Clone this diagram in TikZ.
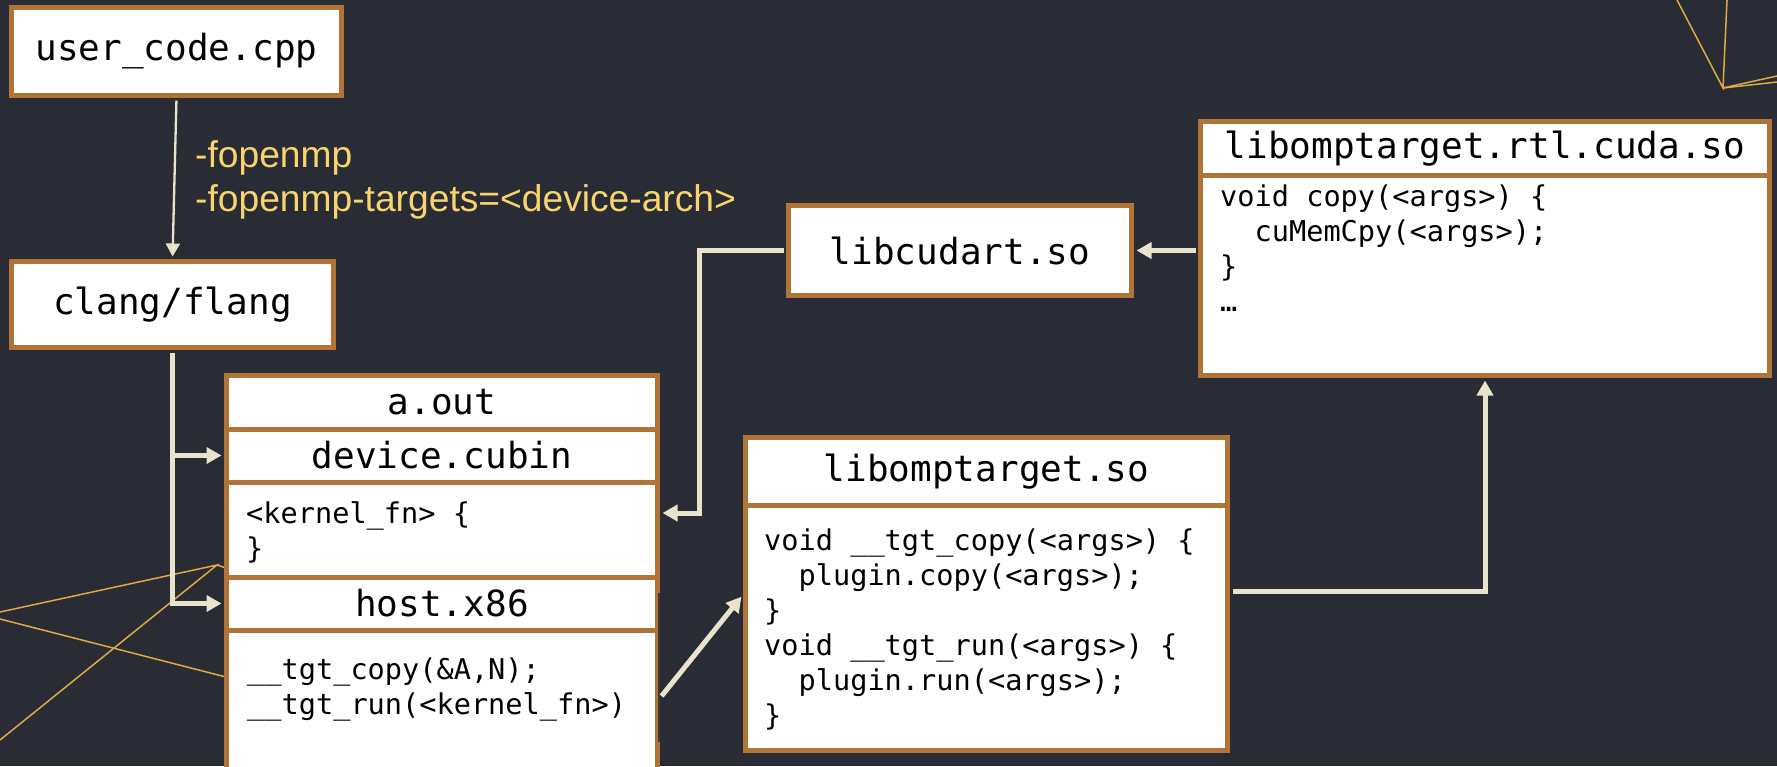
\documentclass[tikz,border=0pt]{standalone}
\usepackage{fontspec}
\setmainfont{Liberation Sans}
\newfontfamily\codefont{DejaVu Sans Mono}
\usetikzlibrary{arrows.meta,calc}
\definecolor{bgc}{RGB}{41,43,53}
\definecolor{boxc}{RGB}{178,116,54}
\definecolor{arrc}{RGB}{234,227,204}
\definecolor{lblc}{RGB}{248,212,108}
\definecolor{goldc}{RGB}{222,170,68}
\definecolor{artc}{RGB}{62,58,56}
\newcommand\hdrfont{\codefont\fontsize{36}{43}\selectfont}
\newcommand\cdfont{\codefont\fontsize{28.6}{35}\selectfont}
\tikzset{
  sect/.style={draw=boxc, line width=5pt, fill=white, inner sep=0pt, font=\hdrfont, text=black},
  codetxt/.style={inner sep=0pt, align=left, font=\cdfont, text=black},
  lbl/.style={inner sep=0pt, align=left, font=\fontsize{37.2}{44}\selectfont, text=lblc},
  goldl/.style={draw=goldc, line width=1.5pt},
  conn/.style={draw=arrc, shorten <=2.5pt, shorten >=2.5pt},
  thinarr/.style={conn, line width=2.3pt, -{Triangle[length=13pt,width=14pt]}},
  thickarr/.style={conn, line width=5pt, -{Triangle[length=15pt,width=16pt]}},
}
\begin{document}
\begin{tikzpicture}[x=1pt,y=-1pt]
\fill[bgc] (0,0) rectangle (1777,766);
\useasboundingbox (0,0) rectangle (1777,766);
\clip (0,0) rectangle (1777,766);

% decorative lines
\coordinate (g1) at (217,565);
\draw[goldl] (0,612) -- (g1) -- (0,740);
\draw[goldl] (g1) -- (226,568);
\draw[goldl] (0,619) -- (226,677);
\coordinate (g2) at (1723,88);
\draw[goldl] (1677,0) -- (g2) -- (1727,0);
\draw[goldl] (g2) -- (1777,76);
\draw[goldl] (g2) -- (1777,82);

% boxes
\node[sect, minimum width=330pt, minimum height=88pt] (uc) at (176.5,51.5) {user\_code.cpp};
\node[sect, minimum width=322pt, minimum height=86pt] (cl) at (172.5,304.5) {clang/flang};

\node[sect, minimum width=431pt, minimum height=53.5pt] (ao) at (442,402.25) {a.out};
\node[sect, minimum width=431pt, minimum height=53pt] (dc) at (442,455.5) {device.cubin};
\node[sect, minimum width=431pt, minimum height=95pt] (kc) at (442,529.5) {};
\node[sect, minimum width=431pt, minimum height=53pt] (hx) at (442,603.5) {host.x86};
\node[sect, minimum width=431pt, minimum height=170pt] (hc) at (442,715) {};
\draw[artc, line width=1.5pt] (659,593) -- (659,742);
\node[codetxt, anchor=west] (kct) at (246,532.5) {<kernel\_fn> \{\\\}};
\node[codetxt, anchor=west] (hct) at (247,689.5) {\_\_tgt\_copy(\&A,N);\\\_\_tgt\_run(<kernel\_fn>)};

\node[sect, minimum width=343pt, minimum height=90pt] (cu) at (960,250.5) {libcudart.so};

\node[sect, minimum width=569pt, minimum height=53.5pt] (rh) at (1485,148.25) {libomptarget.rtl.cuda.so};
\node[sect, minimum width=569pt, minimum height=200.5pt] (rc) at (1485,275.25) {};
\node[codetxt, anchor=west] (rct) at (1220,248.5) {void copy(<args>) \{\\\phantom{xx}cuMemCpy(<args>);\\\}\\…};

\node[sect, minimum width=482pt, minimum height=67.5pt] (lh) at (986.5,471.25) {libomptarget.so};
\node[sect, minimum width=482pt, minimum height=245.5pt] (lc) at (986.5,627.75) {};
\node[codetxt, anchor=west] (lct) at (764,629) {void \_\_tgt\_copy(<args>) \{\\\phantom{xx}plugin.copy(<args>);\\\}\\void \_\_tgt\_run(<args>) \{\\\phantom{xx}plugin.run(<args>);\\\}};

% label
\node[lbl, anchor=west] (fl) at (195,180) {-fopenmp\\-fopenmp-targets=<device-arch>};

% connectors
\draw[thinarr] (uc.south) -- (cl.north);
\draw[thickarr] (cl.south) |- (dc.west);
\draw[thickarr] (cl.south) |- (hx.west);
\draw[thickarr] (cu.west) -- ++(-86.5,0) |- ($(kc.east)+(0,-16.5)$);
\draw[thickarr] (rc.west |- cu.east) -- (cu.east);
\draw[thickarr] ($(lc.east)+(0,-36)$) -| (rc.south);
\draw[thickarr] ($(hc.east)+(0,-17)$) -- ($(lc.west)+(0,-33)$);
\end{tikzpicture}
\end{document}
